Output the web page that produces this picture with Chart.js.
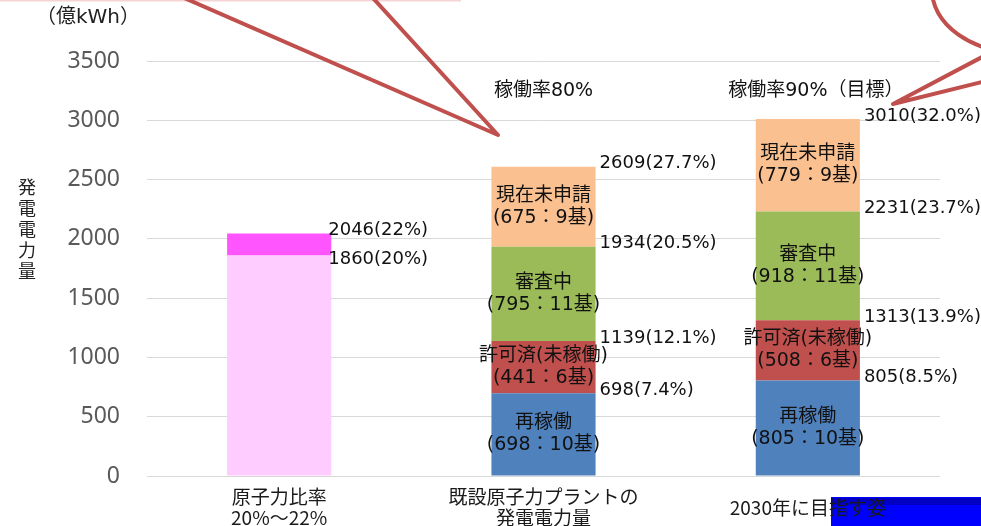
<!DOCTYPE html>
<html lang="ja">
<head>
<meta charset="utf-8">
<script src="https://cdn.jsdelivr.net/npm/chart.js@4/dist/chart.umd.min.js"></script>
<style>
  html, body { margin: 0; padding: 0; background: #fff; }
  canvas { display: block; }
</style>
</head>
<body>
<canvas id="chart" width="981" height="526"></canvas>
<script>
const CATEGORIES = [['原子力比率', '20%〜22%'], ['既設原子力プラントの', '発電電力量'], ['2030年に目指す姿']];
const Y_MIN = 0;
const Y_MAX = 3500;
const Y_STEP = 500;

// 億kWh per segment (bottom to top)
const RATIO_LOW = [1860, null, null];
const RATIO_HIGH = [186, null, null];
const RESTARTED = [null, 698, 805];
const PERMITTED = [null, 441, 508];
const UNDER_REVIEW = [null, 795, 918];
const NOT_APPLIED = [null, 675, 779];

// number of reactors
const UNITS_RESTARTED = [null, 10, 10];
const UNITS_PERMITTED = [null, 6, 6];
const UNITS_REVIEW = [null, 11, 11];
const UNITS_NOT_APPLIED = [null, 9, 9];

// share of total generation at each cumulative level
const TOTAL_PCT = [['20', '22'], ['7.4', '12.1', '20.5', '27.7'], ['8.5', '13.9', '23.7', '32.0']];
const RATE_NOTES = [null, '稼働率80%', '稼働率90%（目標）'];

const FONT_INSIDE = '19px "DejaVu Sans", "Noto Sans CJK JP"';
const FONT_TOTAL = '18px "DejaVu Sans", "Noto Sans CJK JP"';
const TEXT = '#111';

function barOf(chart, i) {
  for (let d = 0; d < chart.data.datasets.length; d++) {
    if (chart.data.datasets[d].data[i] != null) return chart.getDatasetMeta(d).data[i];
  }
  return null;
}

const decorations = {
  id: 'decorations',
  beforeDraw(chart) {
    const ctx = chart.ctx;
    ctx.save();
    ctx.fillStyle = '#0000FF';
    ctx.fillRect(831, 497, 150, 29);
    ctx.fillStyle = '#0000C4';
    ctx.fillRect(831, 498, 150, 7);
    ctx.restore();
  },
  afterDatasetsDraw(chart) {
    const ctx = chart.ctx;
    const yScale = chart.scales.y;
    ctx.save();
    ctx.fillStyle = TEXT;
    ctx.textBaseline = 'middle';

    // segment names inside the bars
    ctx.font = FONT_INSIDE;
    ctx.textAlign = 'center';
    chart.data.datasets.forEach((ds, di) => {
      if (!ds.units) return;
      const meta = chart.getDatasetMeta(di);
      meta.data.forEach((bar, i) => {
        if (ds.data[i] == null) return;
        const cy = (bar.y + bar.base) / 2;
        ctx.fillText(ds.label, bar.x, cy - 11);
        ctx.fillText(`(${ds.data[i]}：${ds.units[i]}基)`, bar.x, cy + 11);
      });
    });

    // rate notes above the bars
    CATEGORIES.forEach((c, i) => {
      const bar = barOf(chart, i);
      if (!bar || !RATE_NOTES[i]) return;
      ctx.fillText(RATE_NOTES[i], bar.x + (i === 2 ? 8 : 0), 91);
    });

    // cumulative totals to the right of each bar
    ctx.font = FONT_TOTAL;
    ctx.textAlign = 'left';
    CATEGORIES.forEach((c, i) => {
      const bar = barOf(chart, i);
      if (!bar) return;
      const right = bar.x + bar.width / 2 + (i === 0 ? -3 : 4);
      let cum = 0, k = 0;
      const items = [];
      chart.data.datasets.forEach(ds => {
        const v = ds.data[i];
        if (v == null) return;
        cum += v;
        items.push({ text: `${cum}(${TOTAL_PCT[i][k]}%)`, y: yScale.getPixelForValue(cum) - 3 });
        k++;
      });
      for (let n = items.length - 2; n >= 0; n--) {
        if (items[n].y - items[n + 1].y < 29) items[n].y = items[n + 1].y + 29;
      }
      items.forEach(it => ctx.fillText(it.text, right, it.y));
    });

    // unit and vertical axis title
    ctx.fillStyle = '#222';
    ctx.textAlign = 'center';
    ctx.font = '20px "DejaVu Sans", "Noto Sans CJK JP"';
    ctx.fillText('（億kWh）', 88, 18);
    ctx.font = '18px "Noto Sans CJK JP"';
    '発電電力量'.split('').forEach((ch, k) => ctx.fillText(ch, 27, 187 + k * 21));
    ctx.restore();
  },
  afterDraw(chart) {
    const ctx = chart.ctx;
    ctx.save();
    ctx.fillStyle = '#F4D4D4';
    ctx.fillRect(0, 0, 461, 1.5);

    ctx.strokeStyle = '#C0504D';
    ctx.lineWidth = 4;
    ctx.lineJoin = 'round';
    ctx.lineCap = 'round';
    ctx.beginPath();
    ctx.moveTo(182, -3);
    ctx.lineTo(498, 135);
    ctx.lineTo(372, -3);
    ctx.stroke();

    ctx.beginPath();
    ctx.moveTo(986, 55);
    ctx.lineTo(893, 104);
    ctx.lineTo(986, 81);
    ctx.stroke();

    ctx.beginPath();
    ctx.ellipse(1022, -10, 90, 63, 0, 0, Math.PI * 2);
    ctx.stroke();
    ctx.restore();
  }
};

function makeSet(label, data, color, units) {
  return {
    label,
    data,
    units,
    backgroundColor: color,
    borderWidth: 0,
    barPercentage: 0.394,
    categoryPercentage: 1
  };
}

const datasets = [
  makeSet('原子力比率20%', RATIO_LOW, '#FFCCFF', null),
  makeSet('原子力比率22%', RATIO_HIGH, '#FF55FF', null),
  makeSet('再稼働', RESTARTED, '#4F81BD', UNITS_RESTARTED),
  makeSet('許可済(未稼働)', PERMITTED, '#C0504D', UNITS_PERMITTED),
  makeSet('審査中', UNDER_REVIEW, '#9BBB59', UNITS_REVIEW),
  makeSet('現在未申請', NOT_APPLIED, '#FAC090', UNITS_NOT_APPLIED)
];

new Chart(document.getElementById('chart'), {
  type: 'bar',
  data: { labels: CATEGORIES, datasets },
  options: {
    responsive: false,
    animation: false,
    layout: { padding: { top: 61, right: 41, left: 0, bottom: 0 } },
    plugins: { legend: { display: false }, tooltip: { enabled: false } },
    scales: {
      x: {
        stacked: true,
        grid: { display: false, drawTicks: false },
        border: { display: false },
        ticks: {
          color: '#1a1a1a',
          padding: 21,
          crossAlign: 'center',
          maxRotation: 0,
          autoSkip: false,
          font: { family: '"Noto Sans CJK JP"', size: 19, lineHeight: 1.1 }
        },
        afterFit: s => { s.height = 50; }
      },
      y: {
        stacked: true,
        min: Y_MIN,
        max: Y_MAX,
        grid: { color: '#D9D9D9', lineWidth: 1, drawTicks: false },
        border: { display: false },
        ticks: {
          stepSize: Y_STEP,
          color: '#595959',
          padding: 27,
          font: { family: '"Noto Sans"', size: 23 },
          callback: v => String(v)
        },
        afterFit: s => { s.width = 147; }
      }
    }
  },
  plugins: [decorations]
});
</script>
</body>
</html>
